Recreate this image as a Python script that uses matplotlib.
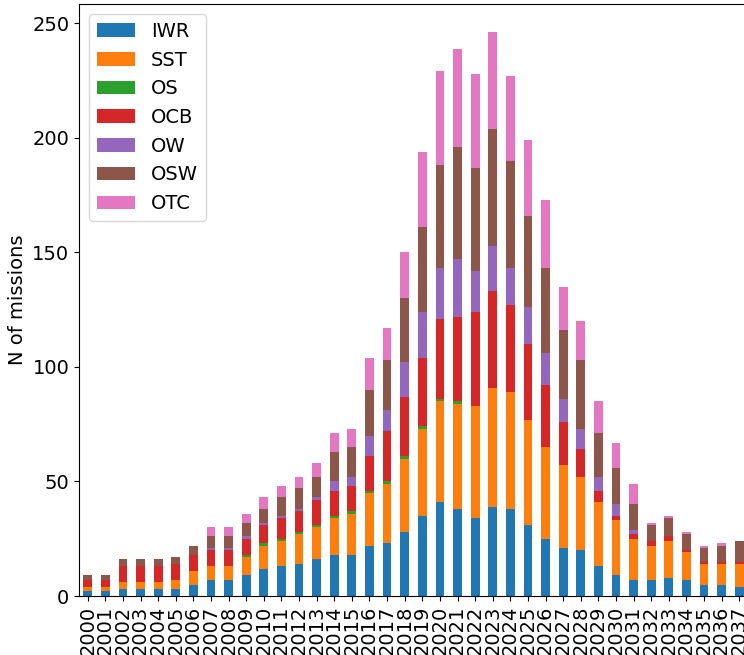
import matplotlib
matplotlib.use("Agg")
import matplotlib.pyplot as plt
import pandas as pd

# data
years = list(range(2000, 2038))

iwr = [2, 2, 3, 3, 3, 3, 5, 7, 7, 9, 12, 13, 14, 16, 18, 18, 22, 23, 28, 35,
       41, 38, 34, 39, 38, 31, 25, 21, 20, 13, 9, 7, 7, 8, 7, 5, 5, 4]
sst = [2, 2, 3, 3, 3, 4, 6, 6, 6, 8, 10, 11, 13, 14, 16, 18, 23, 26, 32, 38,
       44, 46, 49, 52, 51, 46, 40, 36, 32, 28, 24, 18, 15, 16, 12, 9, 9, 10]
os_ = [0, 0, 0, 0, 0, 0, 0, 0, 0, 1, 1, 1, 1, 1, 1, 1, 1, 1, 1, 1,
       1, 1, 0, 0, 0, 0, 0, 0, 0, 0, 0, 0, 0, 0, 0, 0, 0, 0]
ocb = [3, 3, 7, 7, 7, 7, 7, 7, 7, 7, 8, 9, 9, 11, 11, 11, 15, 22, 26, 30,
       35, 37, 41, 42, 38, 33, 27, 19, 12, 5, 2, 2, 2, 2, 1, 1, 1, 1]
ow = [0, 0, 0, 0, 0, 0, 0, 1, 1, 1, 1, 1, 1, 1, 4, 4, 9, 9, 15, 20,
      22, 25, 18, 20, 16, 16, 14, 10, 9, 6, 5, 2, 0, 0, 0, 0, 0, 0]
osw = [2, 2, 3, 3, 3, 3, 4, 5, 5, 6, 6, 8, 9, 9, 13, 13, 20, 22, 28, 37,
       45, 49, 45, 51, 47, 40, 37, 30, 30, 19, 16, 11, 7, 8, 7, 6, 7, 9]
otc = [0, 0, 0, 0, 0, 0, 0, 4, 4, 4, 5, 5, 5, 6, 8, 8, 14, 14, 20, 33,
       41, 43, 41, 42, 37, 33, 30, 19, 17, 14, 11, 9, 1, 1, 1, 1, 1, 0]

df = pd.DataFrame({'IWR': iwr, 'SST': sst, 'OS': os_, 'OCB': ocb,
                   'OW': ow, 'OSW': osw, 'OTC': otc}, index=years)

fig = plt.figure(figsize=(7.44, 6.55), dpi=100)
# axes run slightly past the right edge, as in the reference crop
ax = fig.add_axes([79 / 744, 59 / 655, (748 - 79) / 744, 591.7 / 655])

df.plot(kind='bar', stacked=True, ax=ax, fontsize=14)
ax.set_ylabel('N of missions', fontsize=14)
ax.legend(loc='upper left', fontsize=14)

fig.savefig('out.png', dpi=100)
